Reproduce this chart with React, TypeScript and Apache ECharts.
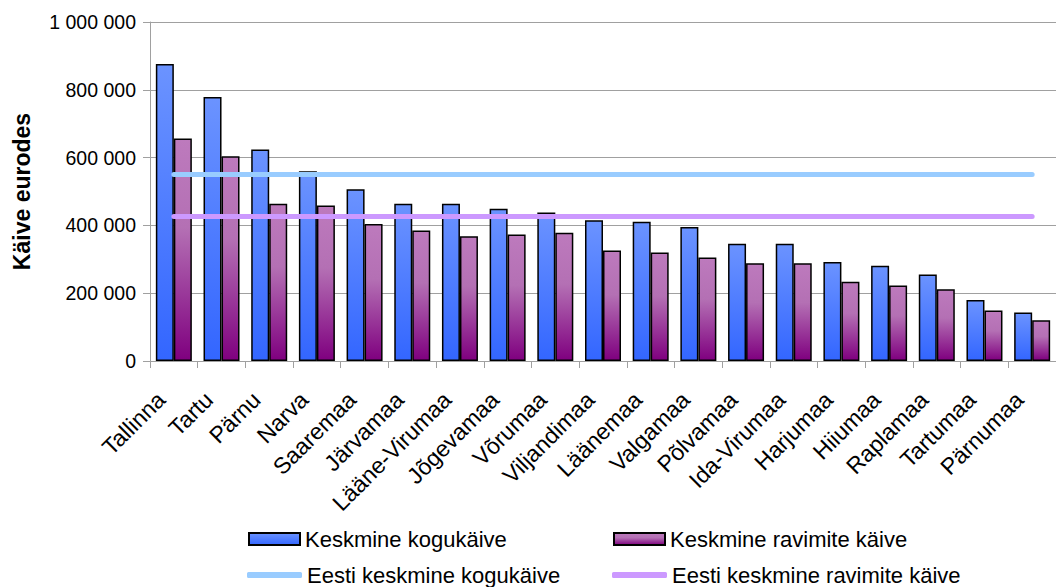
import React, { useEffect, useRef } from "react";
import * as echarts from "echarts";

const categories = [
  "Tallinna", "Tartu", "Pärnu", "Narva", "Saaremaa", "Järvamaa", "Lääne-Virumaa",
  "Jõgevamaa", "Võrumaa", "Viljandimaa", "Läänemaa", "Valgamaa", "Põlvamaa",
  "Ida-Virumaa", "Harjumaa", "Hiiumaa", "Raplamaa", "Tartumaa", "Pärnumaa",
];
const keskmineKogukaive = [
  876000, 779000, 624000, 560000, 507000, 464000, 464000, 449000, 438000, 415000,
  411000, 395000, 346000, 346000, 292000, 281000, 255000, 180000, 143000,
];
const keskmineRavimiteKaive = [
  656000, 604000, 464000, 459000, 404000, 385000, 368000, 373000, 378000, 326000,
  320000, 305000, 288000, 288000, 234000, 223000, 212000, 149000, 120000,
];
const eestiKeskmineKogukaive = 550000;
const eestiKeskmineRavimiteKaive = 426000;
const yTicks = [0, 200000, 400000, 600000, 800000, 1000000];

const names = [
  "Keskmine kogukäive",
  "Keskmine ravimite käive",
  "Eesti keskmine kogukäive",
  "Eesti keskmine ravimite käive",
];

const FONT = "Liberation Sans, Arial, sans-serif";

function fmt(v: number): string {
  return String(Math.round(v)).replace(/\B(?=(\d{3})+(?!\d))/g, " ");
}

export default function App() {
  const ref = useRef<HTMLDivElement>(null);
  useEffect(() => {
    if (!ref.current) return;
    const chart = echarts.init(ref.current, undefined, { renderer: "svg" });
    const blueGrad = new echarts.graphic.LinearGradient(0, 0, 0, 1, [
      { offset: 0, color: "#6b93ff" },
      { offset: 1, color: "#3366ff" },
    ]);
    const purpleGrad = new echarts.graphic.LinearGradient(0, 0, 0, 1, [
      { offset: 0, color: "#bd7abd" },
      { offset: 0.4, color: "#b470b4" },
      { offset: 1, color: "#7f007f" },
    ]);
    const legendText = { fontFamily: FONT, fontSize: 22, color: "#000" };
    const legendBase = {
      orient: "horizontal" as const,
      padding: 0,
      itemWidth: 51,
      textStyle: legendText,
      selectedMode: false,
    };
    chart.setOption({
      animation: false,
      grid: { left: 150, top: 22, bottom: 226, right: -10, containLabel: false },
      legend: [
        { ...legendBase, data: [{ name: names[0], icon: "rect" }], left: 248, top: 528, itemHeight: 12 },
        { ...legendBase, data: [{ name: names[1], icon: "rect" }], left: 613, top: 528, itemHeight: 12 },
        { ...legendBase, data: [{ name: names[2], icon: "roundRect" }], left: 247, top: 564, itemHeight: 6, itemWidth: 55 },
        { ...legendBase, data: [{ name: names[3], icon: "roundRect" }], left: 612, top: 564, itemHeight: 6, itemWidth: 55 },
      ],
      xAxis: {
        type: "category",
        data: categories,
        boundaryGap: true,
        axisLine: { lineStyle: { color: "#a0a0a0", width: 1 } },
        axisTick: { show: true, length: 7, lineStyle: { color: "#a0a0a0" } },
        axisLabel: {
          interval: 0,
          rotate: 45,
          fontFamily: FONT,
          fontSize: 23,
          color: "#000",
          margin: 22,
          padding: [0, 18, 0, 0],
        },
      },
      yAxis: {
        type: "value",
        min: 0,
        max: 1000000,
        interval: 200000,
        name: "Käive eurodes",
        nameLocation: "middle",
        nameRotate: 90,
        nameGap: 117,
        nameTextStyle: { fontFamily: FONT, fontSize: 23, fontWeight: "bold", color: "#000" },
        axisLine: { show: true, lineStyle: { color: "#a0a0a0", width: 1 } },
        axisTick: { show: true, length: 7, lineStyle: { color: "#a0a0a0" } },
        splitLine: { lineStyle: { color: "#a0a0a0", width: 1 } },
        axisLabel: {
          fontFamily: FONT,
          fontSize: 19.5,
          color: "#000",
          margin: 14,
          formatter: (v: number) => (yTicks.includes(v) ? fmt(v) : ""),
        },
      },
      series: [
        {
          name: names[0],
          type: "bar",
          data: keskmineKogukaive,
          barWidth: 18,
          barGap: "0%",
          itemStyle: { color: blueGrad, borderColor: "#000", borderWidth: 1.5 },
          z: 2,
        },
        {
          name: names[1],
          type: "bar",
          data: keskmineRavimiteKaive,
          barWidth: 18,
          barGap: "0%",
          itemStyle: { color: purpleGrad, borderColor: "#000", borderWidth: 1.5 },
          z: 2,
        },
        {
          name: names[2],
          type: "line",
          data: categories.map(() => eestiKeskmineKogukaive),
          symbol: "none",
          lineStyle: { color: "#99ccff", width: 5, cap: "round" },
          itemStyle: { color: "#99ccff" },
          z: 5,
        },
        {
          name: names[3],
          type: "line",
          data: categories.map(() => eestiKeskmineRavimiteKaive),
          symbol: "none",
          lineStyle: { color: "#cc99ff", width: 5, cap: "round" },
          itemStyle: { color: "#cc99ff" },
          z: 5,
        },
      ],
    });
    return () => chart.dispose();
  }, []);
  return (
    <div
      ref={ref}
      style={{ position: "fixed", left: 0, top: 0, width: 1056, height: 587, background: "#fff" }}
    />
  );
}
